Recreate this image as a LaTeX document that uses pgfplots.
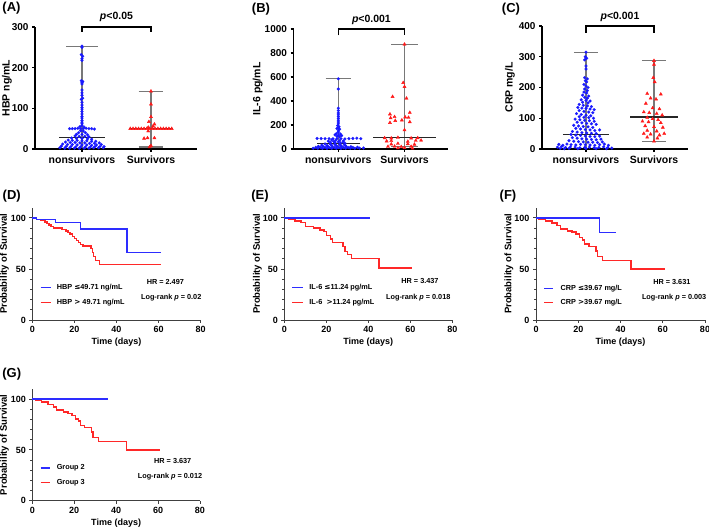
\documentclass[border=0pt]{standalone}
\usepackage{pgfplots}
\pgfplotsset{compat=1.18}
\usepackage{fontspec}
\setmainfont{Liberation Sans}
\newfontfamily\symf{DejaVu Sans}
\newcommand\fs[1]{\fontsize{#1}{#1}\selectfont\bfseries}
\definecolor{cblue}{RGB}{25,25,255}
\definecolor{cred}{RGB}{255,25,25}
\definecolor{kblue}{RGB}{45,45,255}
\definecolor{kred}{RGB}{255,40,40}
\definecolor{wgray}{RGB}{120,120,120}
\pgfplotsset{
  scat/.style={
    scale only axis, anchor=south west, clip=false,
    axis x line*=bottom, axis y line*=left,
    axis line style={line width=1.2pt, black},
    tick style={line width=1.2pt, black},
    tick align=outside, major tick length=3pt,
    xtick={1,2}, xticklabels={nonsurvivors,Survivors},
    xticklabel style={font=\fs{10.5}},
    yticklabel style={font=\fs{10}},
    /pgf/number format/assume math mode=true,
    /pgf/number format/1000 sep={},
    scaled y ticks=false,
    ylabel style={font=\fs{10.5}, anchor=center},
    ymin=0,
  },
  blu/.style={only marks, mark=*, mark size=1.45pt, color=cblue, mark options={fill=cblue, draw=cblue, line width=0.2pt}},
  rd/.style={only marks, mark=triangle*, mark size=1.8pt, color=cred, mark options={fill=cred, draw=cred}},
  wh/.style={color=wgray, line width=1.1pt, mark=none},
  med/.style={color=black!85, line width=1.5pt, mark=none},
  km/.style={
    scale only axis, anchor=south west, clip=false,
    axis x line*=bottom, axis y line*=left,
    axis line style={line width=0.9pt, black!75},
    tick style={line width=0.9pt, black!75},
    tick align=outside, major tick length=3pt, minor tick length=2pt,
    xmin=0, xmax=80, ymin=0, ymax=110,
    xtick={0,20,...,80}, ytick={0,50,100}, minor y tick num=4,
    ticklabel style={font=\fs{9}},
    /pgf/number format/assume math mode=true,
    xlabel={Time (days)}, ylabel={Probability of Survival},
    xlabel style={font=\fs{9}, at={(axis description cs:0.5,-0.2)}, anchor=center},
    ylabel style={font=\fs{9.5}, anchor=center},
  },
  kb/.style={const plot, color=kblue, line width=1.5pt, mark=none},
  kr/.style={const plot, color=kred, line width=1.5pt, mark=none},
}
\begin{document}
\begin{tikzpicture}[x=1pt,y=1pt]
\useasboundingbox (0,0) rectangle (709,530);
%% ---------------- A
\begin{axis}[scat, at={(35pt,381pt)}, width=162pt, height=122pt,
  xmin=0.319, xmax=2.667, ymax=300, ytick={0,100,200,300},
  ylabel={HBP ng/mL}, ylabel style={at={(axis description cs:-0.173,0.5)}}]
\addplot[wh] coordinates {(1,2)(1,253)};
\addplot[wh] coordinates {(0.77,253)(1.23,253)};
\addplot[wh] coordinates {(2,5)(2,142)};
\addplot[wh] coordinates {(1.82,142)(2.18,142)};
\addplot[wh] coordinates {(1.82,5)(2.18,5)};
\addplot[med] coordinates {(1.68,50)(2.32,50)};
\addplot[blu] coordinates {(1,253)(1,250)(0.99,232)(1.01,228)(1,222)(1,218)(0.99,168)(1.01,166)(1,163)(1,160)(1,145)(1,138)(1,132)(1.01,125)(0.99,122)(1,115)(1,108)(1,102)(1,98)(1,92)(1,86)(1,80)(1,76)(1,70)(1,66)(1,62)(1,58)(0.97,55)(1.03,54)(0.82,50)(0.86,50)(0.9,50)(0.94,51)(0.98,50)(1.02,50)(1.06,51)(1.1,50)(1.14,50)(1.18,49)(0.98,45)(1.02,44)(0.95,40)(1.05,40)(0.92,36)(1,36)(1.08,35)(0.9,32)(0.96,31)(1.04,31)(1.1,30)(0.85,27)(0.92,26)(1.0,26)(1.08,25)(1.14,24)(0.8,22)(0.86,21)(0.93,21)(1.0,20)(1.07,20)(1.14,19)(1.2,19)(0.76,17)(0.83,16)(0.9,16)(0.97,15)(1.04,15)(1.11,14)(1.18,14)(1.25,15)(0.72,12)(0.79,11)(0.86,11)(0.93,10)(1.0,10)(1.07,10)(1.14,9)(1.21,10)(1.28,11)(0.7,7)(0.77,6)(0.84,6)(0.91,5)(0.98,5)(1.05,5)(1.12,5)(1.19,6)(1.26,6)(1.32,6)(0.68,3)(0.75,2)(0.82,2)(0.89,2)(0.96,2)(1.03,2)(1.1,2)(1.17,3)(1.24,3)(1.31,3)};
\addplot[rd] coordinates {(2,142)(2,110)(2,79)(2.05,61)(1.97,67)(2.03,56)(1.96,53)(1.7,50)(1.74,50)(1.78,50)(1.82,50)(1.86,50)(1.9,50)(1.94,50)(1.98,50)(2.02,50)(2.06,50)(2.1,50)(2.14,50)(2.18,50)(2.22,50)(2.26,50)(2.3,50)(1.96,44)(1.95,27)(2.05,27)(1.9,26)(2.0,8)(1.98,5)};
\addplot[med] coordinates {(0.67,28)(1.33,28)};
\draw[line width=1.1pt] (axis cs:1,288) -- (axis cs:1,300) -- (axis cs:2,300) -- (axis cs:2,288);
\node[font=\fs{10.5}] at (axis cs:1.5,324) {\textit{p}<0.05};
\end{axis}
%% ---------------- B
\begin{axis}[scat, at={(293.5pt,381pt)}, width=154.5pt, height=120pt,
  xmin=0.323, xmax=2.657, ymax=1000, ytick={0,200,400,600,800,1000},
  ylabel={IL-6 pg/mL}, ylabel style={at={(axis description cs:-0.232,0.5)}}]
\addplot[wh] coordinates {(1,3)(1,585)};
\addplot[wh] coordinates {(0.81,585)(1.19,585)};
\addplot[wh] coordinates {(2,20)(2,870)};
\addplot[wh] coordinates {(1.8,870)(2.2,870)};
\addplot[wh] coordinates {(1.8,20)(2.2,20)};
\addplot[blu] coordinates {(1,585)(1,500)(1,340)(1,320)(1,300)(1,285)(1,270)(1,255)(1,240)(1,225)(1,210)(0.99,195)(1.01,185)(1,178)(0.98,170)(1.02,165)(1,150)(1,140)(0.97,128)(1.03,125)(0.95,118)(1.0,115)(1.05,112)(0.98,105)(1.02,102)(0.68,88)(0.74,87)(0.8,86)(0.86,86)(0.92,85)(0.98,85)(1.04,85)(1.1,84)(1.16,86)(1.22,88)(1.28,90)(1.34,86)(0.9,75)(0.96,72)(1.02,70)(1.08,68)(0.85,65)(0.93,62)(1.0,60)(1.07,58)(0.88,55)(0.95,52)(1.03,50)(1.1,48)(0.8,42)(0.88,40)(0.95,38)(1.02,38)(1.09,36)(0.75,32)(0.83,30)(0.9,30)(0.97,28)(1.04,28)(1.11,27)(0.7,22)(0.77,22)(0.84,21)(0.91,20)(0.98,20)(1.05,19)(1.12,19)(1.19,20)(0.66,14)(0.73,13)(0.8,13)(0.87,12)(0.94,12)(1.01,12)(1.08,11)(1.15,12)(1.22,13)(1.29,14)(0.62,6)(0.69,6)(0.76,5)(0.83,5)(0.9,5)(0.97,5)(1.04,5)(1.11,5)(1.18,6)(1.25,6)(1.32,7)(1.38,8)};
\addplot[rd] coordinates {(2,872)(1.98,552)(2,519)(1.82,436)(2.03,422)(1.78,290)(2.08,303)(1.85,268)(2.01,265)(2.06,262)(1.79,258)(1.86,236)(1.96,240)(2.08,225)(1.78,219)(2,158)(1.7,92)(1.8,90)(1.9,95)(2.1,90)(2.2,92)(1.73,65)(1.8,68)(2.05,62)(2.17,70)(2.25,72)(1.8,40)(1.9,45)(2.05,42)(2.15,38)(1.75,20)(1.85,22)(1.95,18)(2.1,20)(1.9,8)(2.0,10)(2.12,6)};
\addplot[med] coordinates {(0.68,47)(1.32,47)};
\addplot[med] coordinates {(1.53,94)(2.47,94)};
\draw[line width=1.1pt] (axis cs:1,947) -- (axis cs:1,1000) -- (axis cs:2,1000) -- (axis cs:2,947);
\node[font=\fs{10.5}] at (axis cs:1.5,1072) {\textit{p}<0.001};
\end{axis}
%% ---------------- C
\begin{axis}[scat, at={(542pt,381pt)}, width=146pt, height=123pt,
  xmin=0.353, xmax=2.5, ymax=400, ytick={0,100,200,300,400},
  ylabel={CRP mg/L}, ylabel style={at={(axis description cs:-0.219,0.5)}}]
\addplot[wh] coordinates {(1,1)(1,315)};
\addplot[wh] coordinates {(0.82,315)(1.18,315)};
\addplot[wh] coordinates {(2,25)(2,287)};
\addplot[wh] coordinates {(1.82,287)(2.18,287)};
\addplot[wh] coordinates {(1.82,25)(2.18,25)};
\addplot[blu] coordinates {(1,315)(0.99,300)(1.01,295)(0.98,290)(1,270)(1.0,260)(0.98,232)(1.02,228)(0.99,222)(1.01,218)(0.97,210)(1,205)(1.03,200)(0.98,195)(1.02,190)(0.97,185)(1.01,182)(0.95,175)(1.04,172)(0.98,168)(1.02,165)(0.93,160)(1.0,158)(1.06,156)(0.95,152)(1.03,150)(0.9,145)(0.96,142)(1.02,140)(1.08,138)(0.88,135)(0.94,133)(1.0,132)(1.06,130)(1.12,128)(0.9,125)(0.97,122)(1.04,120)(1.1,118)(0.86,115)(0.93,112)(1.0,110)(1.07,108)(0.9,105)(0.97,103)(1.04,102)(1.11,100)(0.84,97)(0.91,95)(0.98,93)(1.05,92)(1.12,90)(0.87,87)(0.94,85)(1.01,83)(1.08,82)(1.15,80)(0.82,77)(0.89,75)(0.96,73)(1.03,72)(1.1,70)(0.85,67)(0.92,65)(0.99,63)(1.06,62)(1.13,60)(1.2,62)(0.8,57)(0.87,55)(0.94,53)(1.01,52)(1.08,51)(1.15,50)(0.78,47)(0.85,45)(0.92,44)(0.99,42)(1.06,41)(1.13,40)(1.2,42)(0.8,37)(0.87,35)(0.94,33)(1.01,32)(1.08,31)(1.15,30)(1.22,32)(0.75,27)(0.82,25)(0.89,24)(0.96,23)(1.03,22)(1.1,22)(1.17,21)(1.24,23)(0.6,15)(0.66,12)(0.72,16)(0.78,14)(0.85,13)(0.92,15)(0.99,14)(1.06,13)(1.13,12)(1.2,14)(1.27,16)(1.33,12)(0.58,6)(0.64,8)(0.7,5)(0.77,7)(0.84,6)(0.91,4)(0.98,5)(1.05,6)(1.12,4)(1.19,5)(1.26,7)(1.32,5)(1.38,3)(0.62,2)(0.68,1)(0.75,2)(0.88,1)(1.0,2)(1.15,1)(1.3,1)};
\addplot[rd] coordinates {(2,287)(2,275)(1.99,232)(2.01,218)(1.9,180)(2.1,178)(1.95,165)(2.03,162)(1.88,148)(1.98,133)(2.08,130)(1.85,120)(1.93,118)(2.04,115)(2.12,110)(1.9,102)(1.98,98)(2.06,95)(1.83,90)(1.92,88)(2.1,85)(1.87,75)(2.0,72)(2.13,70)(1.9,60)(2.04,58)(1.85,50)(1.95,48)(2.08,45)(2.15,50)(1.9,38)(2.05,35)(2.0,25)};
\addplot[med] coordinates {(0.66,47)(1.34,47)};
\addplot[med] coordinates {(1.65,104)(2.35,104)};
\draw[line width=1.1pt] (axis cs:1,378) -- (axis cs:1,400) -- (axis cs:2,400) -- (axis cs:2,378);
\node[font=\fs{10.5}] at (axis cs:1.5,430) {\textit{p}<0.001};
\end{axis}
%% ---------------- D
\begin{axis}[km, at={(32.3pt,210pt)}, width=168.4pt, height=112.3pt,
  ylabel style={at={(axis description cs:-0.165,0.5)}}]
\addplot[kr] coordinates {(0,100)(2,98.5)(4,97.5)(6,96)(7,94.5)(8,93)(9,91.5)(10,90)(14,88.5)(16,87)(17,85.5)(18,84)(19,82)(20,80)(21,78)(22,76)(23,74)(24,72.5)(28,70)(28.6,66)(29,62)(30,58.5)(32,54.5)(61,54.5)};
\addplot[kb] coordinates {(0,100)(2,98.3)(11,95.4)(23,88.9)(45,66.3)(61,66.3)};
\draw[kblue,line width=1.5pt] (axis cs:4,31.6) -- (axis cs:8.7,31.6);
\node[anchor=west,font=\fs{7.3}] at (axis cs:10,31.6) {HBP {\symf ≤}49.71 ng/mL};
\draw[kred,line width=1.5pt] (axis cs:4,17.3) -- (axis cs:8.7,17.3);
\node[anchor=west,font=\fs{7.3}] at (axis cs:10,17.3) {HBP {\symf >} 49.71 ng/mL};
\node[font=\fs{7.3}] at (axis cs:63.2,37.5) {HR = 2.497};
\node[font=\fs{7.3}] at (axis cs:66,21.8) {Log-rank \textit{p} = 0.02};
\end{axis}
%% ---------------- E
\begin{axis}[km, at={(284.3pt,210pt)}, width=168pt, height=112.3pt,
  ylabel style={at={(axis description cs:-0.16,0.5)}}]
\addplot[kr] coordinates {(0,100)(2,98.7)(5,97)(8,95.5)(10,91.5)(14,90)(17,88.2)(19,86.5)(20,82.7)(22,79.5)(23,76)(28,72)(29,67)(30,64)(32,60)(45,51)(61,51)};
\addplot[kb] coordinates {(0,100)(41,100)};
\draw[kblue,line width=1.5pt] (axis cs:3.8,31.6) -- (axis cs:9,31.6);
\node[anchor=west,font=\fs{7.3}] at (axis cs:10.3,31.6) {IL-6 {\symf ≤}11.24 pg/mL};
\draw[kred,line width=1.5pt] (axis cs:3.8,17.3) -- (axis cs:9,17.3);
\node[anchor=west,font=\fs{7.3}] at (axis cs:10.3,17.3) {IL-6 \ {\symf >}11.24 pg/mL};
\node[font=\fs{7.3}] at (axis cs:64.6,38.2) {HR = 3.437};
\node[font=\fs{7.3}] at (axis cs:63.8,21.8) {Log-rank \textit{p} = 0.018};
\end{axis}
%% ---------------- F
\begin{axis}[km, at={(536pt,210pt)}, width=169pt, height=112.3pt,
  ylabel style={at={(axis description cs:-0.16,0.5)}}]
\addplot[kr] coordinates {(0,100)(1.5,98.7)(4.5,97)(7.5,94.8)(10,92.5)(11.5,89.2)(15,87.3)(17,86)(19,84)(20.5,80.7)(22,78.4)(23,74.2)(25,71.9)(28.3,67.6)(29,62)(31.5,58.2)(45,50)(61,50)};
\addplot[kb] coordinates {(0,100)(30,85.6)(38,85.6)};
\draw[kblue,line width=1.5pt] (axis cs:3.8,31) -- (axis cs:8.2,31);
\node[anchor=west,font=\fs{7.3}] at (axis cs:10,31) {CRP {\symf ≤}39.67 mg/L};
\draw[kred,line width=1.5pt] (axis cs:3.8,17.3) -- (axis cs:8.2,17.3);
\node[anchor=west,font=\fs{7.3}] at (axis cs:10,17.3) {CRP {\symf >}39.67 mg/L};
\node[font=\fs{7.3}] at (axis cs:64.3,37.5) {HR = 3.631};
\node[font=\fs{7.3}] at (axis cs:65.4,21.8) {Log-rank \textit{p} = 0.003};
\end{axis}
%% ---------------- G
\begin{axis}[km, at={(32.3pt,29.3pt)}, width=167.7pt, height=111.7pt,
  ylabel style={at={(axis description cs:-0.166,0.5)}}]
\addplot[kr] coordinates {(0,100)(1.5,98.7)(4.5,97)(7.5,94.8)(10,92.5)(11.5,89.2)(15,87.3)(17,86)(19,84)(20.5,80.7)(22,78.4)(23,74.2)(25,71.9)(28.3,67.6)(29,62)(31.5,58.2)(45,50)(61,50)};
\addplot[kb] coordinates {(0,100)(36,100)};
\draw[kblue,line width=1.5pt] (axis cs:4,32.4) -- (axis cs:8.4,32.4);
\node[anchor=west,font=\fs{7.3}] at (axis cs:10,32.4) {Group 2};
\draw[kred,line width=1.5pt] (axis cs:4,17.7) -- (axis cs:8.4,17.7);
\node[anchor=west,font=\fs{7.3}] at (axis cs:10,17.7) {Group 3};
\node[font=\fs{7.3}] at (axis cs:67,39.3) {HR = 3.637};
\node[font=\fs{7.3}] at (axis cs:65.7,23.6) {Log-rank \textit{p} = 0.012};
\end{axis}
%% panel labels
\node[font=\fs{13}] at (11.5,521.5) {(A)};
\node[font=\fs{13}] at (261,521) {(B)};
\node[font=\fs{13}] at (511,520.5) {(C)};
\node[font=\fs{13}] at (11.7,334) {(D)};
\node[font=\fs{13}] at (260,334) {(E)};
\node[font=\fs{13}] at (508,334) {(F)};
\node[font=\fs{13}] at (11.7,155.5) {(G)};
\end{tikzpicture}
\end{document}
